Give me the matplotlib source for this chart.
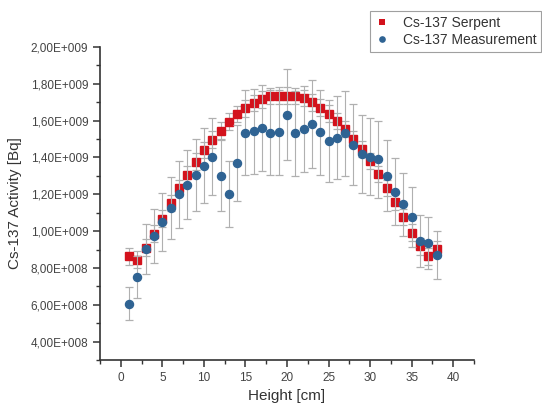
import matplotlib
matplotlib.use('Agg')
import matplotlib.pyplot as plt
from matplotlib.lines import Line2D
from matplotlib.ticker import FuncFormatter, MultipleLocator

plt.rcParams['font.family'] = ['Liberation Sans', 'DejaVu Sans']

# data, activity in units of 1e8 Bq
height = list(range(1, 39))
serpent = [8.63, 8.45, 9.10, 9.86, 10.67, 11.52, 12.34, 13.06, 13.78, 14.41,
           14.97, 15.46, 15.95, 16.37, 16.67, 16.95, 17.16, 17.33, 17.36, 17.36,
           17.33, 17.22, 17.00, 16.71, 16.38, 15.97, 15.55, 15.01, 14.47, 13.80,
           13.11, 12.35, 11.58, 10.76, 9.91, 9.17, 8.63, 9.04]
serpent_err = [0.45, 0.45, 0.45, 0.45, 0.45, 0.45, 0.45, 0.45, 0.45, 0.45,
               0.45, 0.45, 0.45, 0.45, 0.45, 0.45, 0.45, 0.45, 0.45, 0.45,
               0.45, 0.45, 0.45, 0.45, 0.45, 0.45, 0.45, 0.45, 0.45, 0.45,
               0.45, 0.45, 0.45, 0.45, 0.45, 0.45, 0.45, 0.45]
measured = [6.06, 7.52, 9.01, 9.73, 10.49, 11.25, 11.99, 12.53, 13.06, 13.55,
            14.05, 13.02, 12.03, 13.69, 15.34, 15.43, 15.60, 15.34, 15.37, 16.33,
            15.32, 15.55, 15.82, 15.37, 14.89, 15.08, 15.32, 14.70, 14.18, 14.05,
            13.89, 13.02, 12.15, 11.45, 10.78, 9.48, 9.35, 8.68]
measured_err = [0.91, 1.13, 1.35, 1.46, 1.57, 1.69, 1.80, 1.88, 1.96, 2.03,
                2.11, 1.95, 1.80, 2.05, 2.30, 2.31, 2.34, 2.30, 2.31, 2.45,
                2.30, 2.33, 2.37, 2.31, 2.23, 2.26, 2.30, 2.21, 2.13, 2.11,
                2.08, 1.95, 1.82, 1.72, 1.62, 1.42, 1.40, 1.30]

scale = 1e8
serpent = [v * scale for v in serpent]
serpent_err = [v * scale for v in serpent_err]
measured = [v * scale for v in measured]
measured_err = [v * scale for v in measured_err]

red = '#d3121c'
blue = '#2f6393'

fig = plt.figure(figsize=(5.42, 4.12), dpi=100)
ax = fig.add_axes([100 / 542, 1 - 360 / 412, 374 / 542, 313 / 412])

err_kw = dict(ecolor='#b0b0b0', elinewidth=0.8, capsize=3.0, capthick=0.9, linestyle='none')
ax.errorbar(height, serpent, yerr=serpent_err, fmt='s', color=red, markeredgecolor=red,
            markersize=5.2, zorder=3, **err_kw)
ax.errorbar(height, measured, yerr=measured_err, fmt='o', color=blue, markeredgecolor=blue,
            markersize=5.8, zorder=4, **err_kw)

ax.set_xlim(-2.5, 42.5)
ax.set_ylim(3e8, 2e9)
ax.xaxis.set_major_locator(MultipleLocator(5))
ax.xaxis.set_minor_locator(MultipleLocator(2.5))
ax.yaxis.set_major_locator(MultipleLocator(2e8))
ax.yaxis.set_minor_locator(MultipleLocator(1e8))


def sci_comma(v, pos):
    if v == 0:
        return '0'
    e = 0
    m = v
    while abs(m) >= 10:
        m /= 10
        e += 1
    return f'{m:.2f}'.replace('.', ',') + f'E+{e:03d}'


ax.yaxis.set_major_formatter(FuncFormatter(sci_comma))

for s in ['top', 'right']:
    ax.spines[s].set_visible(False)
for s in ['left', 'bottom']:
    ax.spines[s].set_color('#333333')
    ax.spines[s].set_linewidth(1.2)

ax.tick_params(which='major', direction='out', length=5, width=1.1, colors='#333333',
               labelsize=8.5, labelcolor='#444444')
ax.tick_params(which='minor', direction='out', length=3, width=1.0, colors='#333333')

ax.set_xlabel('Height [cm]', fontsize=11, color='#333333', labelpad=4)
ax.set_ylabel('Cs-137 Activity [Bq]', fontsize=11, color='#333333', labelpad=6)

handles = [Line2D([], [], marker='s', color=red, linestyle='none', markersize=4.5,
                  markeredgewidth=0, label='Cs-137 Serpent'),
           Line2D([], [], marker='o', color=blue, linestyle='none', markersize=4.8,
                  markeredgewidth=0, label='Cs-137 Measurement')]
leg = fig.legend(handles=handles, loc='upper left', bbox_to_anchor=(363 / 542, 1 - 4 / 412),
                 bbox_transform=fig.transFigure, fontsize=10, frameon=True,
                 fancybox=False, edgecolor='#888888', handlelength=1.0,
                 handletextpad=1.0, borderpad=0.35, labelspacing=0.25)
leg.get_frame().set_linewidth(0.8)
for t in leg.get_texts():
    t.set_color('#333333')

fig.savefig('out.png', dpi=100)
